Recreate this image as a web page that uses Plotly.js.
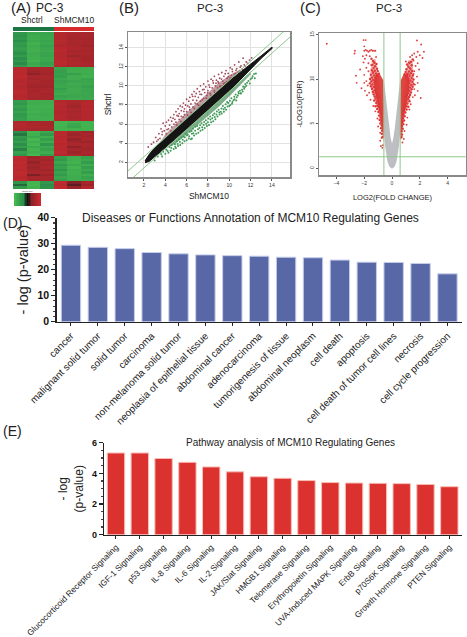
<!DOCTYPE html>
<html><head><meta charset="utf-8">
<script src="https://cdn.plot.ly/plotly-3.0.1.min.js"></script>
<style>html,body{margin:0;padding:0;background:#fff}#c{width:467px;height:637px;opacity:.999;will-change:opacity}</style></head>
<body><div id="c"></div>
<script>
// ---------- data ----------
const heatSamples=['S1','S2','S3','M1','M2','M3'];
const heatRows=[
[-.6,-.8,-.75,.8,.75,.7],[-.55,-.85,-.78,.82,.72,.72],[-.6,-.85,-.8,.8,.7,.68],[-.5,-.82,-.75,.85,.74,.72],
[-.65,-.9,-.8,.8,.72,.7],[-.6,-.85,-.72,.78,.75,.66],[-.7,-.88,-.78,.84,.78,.72],[-.62,-.9,-.82,.85,.7,.7],
[-.52,-.84,-.76,.8,.74,.74],[-.66,-.86,-.74,.82,.6,.7],[-.5,-.88,-.8,.84,.76,.68],[-.6,-.92,-.78,.86,.74,.7],
[-.48,-.8,-.7,.88,.78,.74],[-.62,-.85,-.76,.82,.74,.72],
[.85,.7,.72,-.75,-.82,-.85],[.88,.65,.7,-.7,-.88,-.88],[.86,.5,.66,-.72,-.7,-.85],[.9,.72,.74,-.68,-.86,-.9],
[.85,.68,.72,-.8,-.85,-.75],[.82,.74,.68,-.72,-.78,-.78],[.86,.7,.7,-.76,-.86,-.82],[.8,.66,.66,-.8,-.8,-.72],
[.84,.72,.72,-.7,-.85,-.78],[.88,.7,.74,-.78,-.84,-.76],[.85,.74,.68,-.84,-.82,-.8],[.82,.72,.7,-.74,-.78,-.78],[.84,.7,.7,-.82,-.85,-.8],
[-.66,-.88,-.86,.82,.74,.8],[-.6,-.84,-.88,.85,.7,.84],[-.72,-.9,-.9,.8,.66,.82],[-.64,-.88,-.86,.84,.74,.84],
[-.74,-.92,-.88,.78,.72,.8],[-.62,-.86,-.84,.82,.76,.82],[-.66,-.9,-.86,.84,.72,.84],[-.7,-.86,-.88,.8,.74,.82],
[.78,.7,.72,-.95,-.92,-.92],[.82,.74,.7,-.95,-.8,-.94],[.8,.76,.74,-.92,-.75,-.92],[.78,.72,.72,-.94,-.9,-.93],
[-.5,-.95,-.8,.85,.72,.65],[-.4,-.9,-.65,.88,.6,.72],[-.62,-.8,-.88,.84,.72,.68],[-.55,-1,-.7,.86,.55,.75],
[-.7,-.85,-.85,.9,.68,.62],[-.5,-.98,-.6,.84,.74,.74],[-.68,-.82,-.82,.88,.5,.7],[-.45,-.95,-.72,.86,.7,.66],
[-.72,-.88,-.86,.9,.62,.74],[-.6,-1,-.68,.84,.74,.7],
[.9,.62,.72,-.7,-.85,-.72],[.86,.7,.66,-.6,-.88,-.8],[.92,.55,.74,-.78,-.92,-.66],[.88,.7,.68,-.62,-.82,-.85],
[.9,.6,.76,-.72,-.95,-.7],[.85,.68,.66,-.58,-.85,-.82],[.92,.72,.74,-.74,-.9,-.68],[.9,.42,.62,-.62,-.88,-.85],
[.86,.7,.72,-.78,-.86,-.74],[.88,.68,.7,-.66,-.84,-.8],
[-.55,-.95,-.6,.9,.45,.7],[-.35,-.98,-.5,.86,.3,.62],[-.65,-.9,-.55,.92,.55,.82]];
const heatTopBar=[[-.8,-.8,-.8,1,1,1]];
const keyScale=[[-1,-.9,-.8,-.7,-.6,-.5,-.35,-.15,0,.15,.35,.5,.6,.7,.8,.9,1]];

const bandUpper=[[2.1,2.15],[2.5,2.85],[3,3.5],[4,4.55],[5,5.55],[6,6.55],[7,7.55],[8,8.55],[9,9.55],[10,10.5],[11,11.4],[12,12.25],[13,13.15],[14,14.05]];
const bandLower=[[14.05,13.95],[13,12.88],[12,11.7],[11,10.6],[10,9.5],[9,8.45],[8,7.45],[7,6.45],[6,5.45],[5,4.5],[4,3.5],[3,2.55],[2.5,2.1],[2.1,1.95]];
const redHaze=[[3.5,4.1],[5,5.6],[6,6.6],[7,7.6],[8,8.6],[9,9.6],[10,10.6],[11,11.5],[11,11.7],[10,11.1],[9,10.3],[8,9.3],[7,8.3],[6,7.2],[5,6.1],[4,4.9]];
const greenHaze=[[4,3.4],[5,4.4],[6,5.4],[7,6.4],[8,7.4],[9,8.4],[10,9.4],[11,10.4],[12,11.5],[12,11.2],[11,10],[10,8.9],[9,7.8],[8,6.8],[7,5.8],[6,4.9],[5,4.0]];
const redPoints=[[2.4,3.6],[2.7,3.9],[2.9,4.1],[3.1,4.6],[3.2,4.2],[3.4,5.0],[3.5,4.5],[3.6,5.5],[3.7,4.9],[3.8,6.1],[3.9,5.3],[4.0,5.8],[4.1,5.0],[4.1,6.2],[4.3,5.5],[4.3,6.4],[4.4,5.9],[4.5,6.7],[4.6,5.7],[4.6,6.3],[4.8,7.0],[4.8,6.0],[4.9,6.5],[5.0,7.3],[5.0,6.2],[5.1,6.9],[5.2,7.6],[5.3,6.5],[5.3,7.1],[5.4,7.9],[5.5,6.8],[5.5,7.4],[5.6,7.8],[5.7,8.2],[5.8,7.0],[5.8,7.6],[5.9,8.0],[6.0,8.6],[6.0,7.3],[6.1,7.9],[6.2,8.4],[6.3,7.5],[6.3,8.8],[6.4,8.1],[6.5,9.1],[6.6,7.8],[6.6,8.5],[6.7,9.4],[6.8,8.2],[6.8,8.9],[6.9,9.2],[7.0,9.7],[7.0,8.1],[7.1,8.8],[7.2,9.4],[7.3,8.4],[7.3,10.0],[7.4,9.1],[7.5,9.6],[7.6,8.7],[7.6,10.2],[7.7,9.3],[7.8,9.9],[7.9,9.0],[8.0,10.5],[8.0,9.5],[8.1,10.1],[8.2,9.2],[8.3,10.7],[8.4,9.8],[8.5,10.3],[8.6,9.5],[8.6,11.0],[8.7,10.0],[8.8,10.6],[8.9,9.8],[9.0,11.2],[9.0,10.3],[9.1,10.8],[9.2,10.0],[9.3,11.4],[9.4,10.5],[9.5,11.0],[9.6,10.3],[9.7,11.6],[9.8,10.8],[9.9,11.3],[10,10.6],[10.1,11.9],[10.2,11.1],[10.3,11.5],[10.4,10.9],[10.5,12.2],[10.6,11.3],[10.7,11.8],[10.8,11.1],[10.9,12.5],[11,11.6],[11.1,12.1],[11.3,12.9],[11.4,12.2],[11.6,12.5],[11.9,12.7]];
const redPointsExtra=[[3.33,4.37],[3.72,5.21],[4.17,5.43],[4.52,5.28],[4.73,6.62],[5.07,5.91],[5.23,6.83],[5.46,6.27],[5.68,6.73],[5.74,7.33],[6.08,6.94],[6.26,7.77],[6.43,7.22],[6.57,8.91],[6.72,7.63],[6.94,8.47],[7.12,7.96],[7.26,9.12],[7.47,8.53],[7.63,9.63],[7.84,8.71],[7.97,9.27],[8.16,9.86],[8.27,9.04],[8.46,10.54],[8.63,9.32],[8.76,10.28],[8.94,10.44],[9.12,9.93],[9.27,10.71],[9.46,10.22],[9.62,11.27],[9.77,10.44],[9.93,10.97],[10.13,10.83],[10.27,11.74],[10.46,11.24],[10.63,11.63],[10.82,11.43],[11.03,11.96],[11.22,11.77],[11.47,12.06],[11.73,12.34],[12.1,12.93]];
const greenPoints=[[3.0,2.2],[3.3,2.6],[3.5,3.0],[3.7,2.6],[3.8,3.1],[4.0,2.9],[4.1,3.3],[4.3,3.0],[4.4,3.6],[4.5,3.2],[4.6,3.8],[4.8,3.4],[4.9,3.9],[5.0,3.5],[5.1,4.2],[5.2,3.7],[5.3,4.4],[5.4,3.8],[5.5,4.6],[5.6,4.0],[5.7,4.7],[5.8,4.2],[5.9,5.0],[6.0,4.3],[6.1,4.9],[6.2,4.5],[6.3,5.2],[6.4,4.4],[6.5,5.0],[6.5,4.5],[6.6,5.5],[6.7,4.8],[6.8,5.3],[6.9,5.0],[7.0,5.8],[7.1,5.1],[7.2,5.6],[7.3,5.3],[7.4,6.1],[7.5,5.4],[7.6,5.9],[7.7,5.6],[7.8,6.4],[7.9,5.8],[8.0,6.2],[8.1,5.9],[8.2,6.8],[8.3,6.2],[8.4,6.6],[8.5,6.3],[8.6,7.1],[8.7,6.5],[8.8,7.0],[8.9,6.8],[9.0,7.5],[9.1,7.0],[9.2,7.3],[9.3,7.1],[9.4,7.9],[9.5,7.3],[9.6,7.7],[9.7,7.5],[9.8,8.3],[9.9,8.2],[10.0,7.9],[10.1,8.0],[10.2,8.7],[10.3,8.3],[10.4,8.5],[10.5,8.6],[10.6,9.1],[10.7,8.8],[10.8,9.0],[10.9,9.2],[11.0,9.5],[11.1,9.2],[11.2,9.6],[11.3,9.9],[11.4,9.7],[11.5,10.2],[11.6,10.0],[11.8,10.5],[12.0,10.7],[12.2,11.0],[12.4,10.8],[12.5,11.3]];
const greenPointsExtra=[[3.62,2.83],[4.22,3.17],[4.57,3.49],[4.93,3.63],[5.16,3.92],[5.37,4.13],[5.63,4.37],[5.83,4.63],[6.03,4.82],[6.24,4.73],[6.47,5.27],[6.63,5.03],[6.83,5.72],[7.07,5.47],[7.27,5.87],[7.46,5.66],[7.64,6.23],[7.83,6.04],[8.04,6.58],[8.23,6.47],[8.46,6.93],[8.64,6.74],[8.84,7.33],[9.06,7.22],[9.27,7.64],[9.47,7.56],[9.66,8.07],[9.84,7.83],[10.06,8.43],[10.26,8.13],[10.47,8.86],[10.66,8.47],[10.86,9.37],[11.07,9.23],[11.26,9.42],[11.47,9.88],[11.67,10.33],[11.93,10.24],[12.13,10.82],[12.33,11.24]];
const foldLineLow=[0,16], foldLineUp=[.585,16.585], foldLineDn=[-.585,15.415];

const greyV=[[0,-.05],[-.2,.2],[-.33,.8],[-.42,1.6],[-.5,2.5],[-.585,4],[-.6,7],[-.585,9.9],[-.52,9],[-.42,7.5],[-.3,6],[-.2,4.5],[-.1,3.4],[0,2.8],[.1,3.4],[.2,4.5],[.3,6],[.42,7.5],[.52,9],[.585,9.9],[.6,7],[.585,4],[.5,2.5],[.42,1.6],[.33,.8],[.2,.2],[0,-.05]];
const redLeftCore=[[-.6,3],[-.7,4.3],[-.85,6],[-1.08,7.6],[-1.25,8.8],[-1.3,9.9],[-1.15,10.7],[-.85,10.5],[-.63,9.9],[-.58,7],[-.58,4.5]];
const redRightCore=[[.6,3],[.7,4.3],[.85,6],[1.08,7.6],[1.22,8.8],[1.27,9.9],[1.12,10.7],[.82,10.5],[.63,9.9],[.58,7],[.58,4.5]];
const redLeftHaze=[[-.7,3.5],[-.95,6.2],[-1.3,7.8],[-1.6,9.4],[-1.6,10.4],[-1.45,12.2],[-1.2,12.3],[-1,11],[-.7,7]];
const redRightHaze=[[.7,3.5],[.95,6.2],[1.3,7.8],[1.55,9.4],[1.55,10.4],[1.5,12.1],[1.2,12.2],[1,11],[.7,7]];
const volcanoPoints=[[-4.7,14],[-2.05,14.4],[-1.9,14.4],[-2.0,13.7],[-2.67,13.2],[-2.7,12.9],[-2.0,13.2],[-1.9,13.3],[-1.8,13.2],[-1.7,13.1],[-1.6,13.2],[-1.5,13.3],[-1.4,13.2],[-1.3,13.2],[-1.2,13.2],[-2.1,12.6],[-1.95,12.3],[-1.85,12.7],[-2.05,11.9],[-1.7,11.8],[-1.85,11.3],[-1.6,12.6],[-1.5,11.6],[-1.7,10.9],[-2.6,10.4],[-2.55,9.6],[-2.3,11.1],[-2.0,10.5],[-1.85,9.8],[-2.2,9.0],[-1.95,8.7],[-1.75,9.3],[-2.0,9.6],[-1.8,8.2],[-1.55,7.7],[-1.65,8.5],[-1.35,7.0],[-1.2,6.4],[-1.05,5.6],[-1.0,4.7],[-.85,4.0],[-.85,3.1],[-.8,2.5],[-.7,2.3],[-.65,2.6],[-.75,3.4],[-1.3,11.9],[-1.15,12.5],[-1.4,10.9],
[1.8,14.35],[2.1,13.9],[2.3,13.1],[2.07,7.9],[1.85,13.1],[1.6,12.9],[1.45,12.7],[1.75,12.5],[2.0,12.7],[1.3,12.5],[2.2,12.4],[1.55,12.1],[1.85,11.8],[1.2,11.9],[1.7,11.5],[1.95,11.1],[1.6,10.9],[1.8,10.3],[1.55,10.6],[1.85,9.6],[1.65,9.4],[1.6,8.9],[1.85,8.7],[1.5,8.0],[1.65,8.2],[1.35,7.2],[1.25,6.6],[1.1,5.7],[1.05,4.9],[.9,4.2],[.85,3.3],[.75,2.9],[.7,3.6],[1.1,11.6],[1.0,12.0],[1.35,11.1],[1.25,10.5]];
const volcanoDense=[[-1.48,12.3],[-1.36,12.05],[-1.27,11.85],[-1.41,11.62],[-1.22,11.47],[-1.12,11.73],[-1.33,11.26],[-1.08,11.18],[-1.46,11.03],[-1.24,10.96],[-1.02,10.92],[-1.37,10.74],[-1.16,10.67],[-.94,10.63],[-1.52,10.52],[-1.29,10.43],[-1.07,10.37],[-1.43,10.21],[-1.21,10.16],[-1.58,10.04],[-1.36,9.92],[-1.17,9.84],[-1.49,9.76],[-1.28,9.63],[-1.6,9.54],[-1.41,9.42],[-1.19,9.37],[-1.52,9.22],[-1.31,9.14],[-1.15,8.96],[-1.44,8.93],[-1.26,8.76],[-1.38,8.58],[-1.18,8.52],[-1.32,8.31],[-1.09,8.27],[-1.24,8.07],[-1.03,8.02],[-1.17,7.83],[-1.28,7.61],[-1.06,7.57],[-1.13,7.34],[-.96,7.26],[-1.04,7.03],[-1.19,6.97],[-.92,6.86],[-1.07,6.67],[-.88,6.52],[-.98,6.33],[-.83,6.14],[-.93,5.92],[-.81,5.71],[-.89,5.43],[-.76,5.27],[-.84,5.04],[-.73,4.82],[-.79,4.51],[-.71,4.23],[-.74,3.87],[-.69,3.52],
[1.49,12.24],[1.37,11.96],[1.26,11.83],[1.42,11.57],[1.18,11.41],[1.09,11.68],[1.31,11.24],[1.04,11.12],[1.45,10.94],[1.22,10.87],[.98,10.83],[1.36,10.68],[1.13,10.62],[.91,10.56],[1.5,10.42],[1.27,10.36],[1.04,10.31],[1.41,10.14],[1.19,10.08],[1.55,9.97],[1.33,9.86],[1.15,9.78],[1.47,9.71],[1.26,9.57],[1.56,9.46],[1.39,9.36],[1.17,9.31],[1.49,9.16],[1.29,9.07],[1.13,8.91],[1.41,8.88],[1.24,8.71],[1.36,8.52],[1.16,8.44],[1.3,8.24],[1.07,8.21],[1.22,8.01],[1.01,7.96],[1.15,7.77],[1.26,7.54],[1.04,7.51],[1.11,7.27],[.94,7.19],[1.02,6.97],[1.17,6.91],[.9,6.79],[1.05,6.61],[.86,6.46],[.96,6.27],[.81,6.07],[.91,5.86],[.79,5.64],[.87,5.37],[.74,5.21],[.82,4.97],[.71,4.76],[.77,4.44],[.69,4.16],[.72,3.81],[.67,3.46]];

const dCats=['cancer','malignant solid tumor','solid tumor','carcinoma','non-melanoma solid tumor','neoplasia of epithelial tissue','abdominal cancer','adenocarcinoma','tumorigenesis of tissue','abdominal neoplasm','cell death','apoptosis','cell death of tumor cell lines','necrosis','cell cycle progression'];
const dVals=[29.4,28.6,28.1,26.6,26.1,25.7,25.4,25.2,24.8,24.6,23.7,22.9,22.8,22.4,18.4];
const eCats=['Glucocorticoid Receptor Signaling','IGF-1 Signaling','p53 Signaling','IL-8 Signaling','IL-6 Signaling','IL-2 Signaling','JAK/Stat Signaling','HMGB1 Signaling','Telomerase Signaling','Erythropoietin Signaling','UVA-Induced MAPK Signaling','ErbB Signaling','p70S6K Signaling','Growth Hormone Signaling','PTEN Signaling'];
const eVals=[5.33,5.33,4.97,4.72,4.42,4.1,3.78,3.68,3.53,3.4,3.37,3.35,3.33,3.28,3.13];

// ---------- helpers ----------
const W=467,H=637,FONT='"Liberation Sans",Arial,sans-serif';
const dx=(a,b)=>[a/W,b/W], dy=(top,bot)=>[1-bot/H,1-top/H];
const xs=a=>a.map(p=>p[0]), ys=a=>a.map(p=>p[1]);
const hScale=[[0,'#46b850'],[.25,'#2c8f4c'],[.5,'#111111'],[.75,'#8f2329'],[1,'#c82b2f']];
const hidden={visible:false,fixedrange:true};
const note=(x,y,text,size,color)=>({xref:'paper',yref:'paper',x:x/W,y:1-y/H,text,showarrow:false,xanchor:'center',yanchor:'middle',font:{family:FONT,size,color:color||'#222'}});
const noteL=(x,y,text,size)=>Object.assign(note(x,y,text,size),{xanchor:'left'});

const panelAxis={showline:true,mirror:true,linecolor:'#8a8a8a',linewidth:1.5,showgrid:true,gridcolor:'#e2e2e2',gridwidth:1,zeroline:false,ticks:'outside',ticklen:2,tickcolor:'#555',tickfont:{family:FONT,size:5,color:'#333'}};
const barY={showline:true,linecolor:'#222',linewidth:1.5,ticks:'outside',ticklen:4,tickwidth:1.2,tickcolor:'#222',showgrid:false,zeroline:false,minor:{ticks:'outside',ticklen:2,tickcolor:'#444',nticks:5}};
const barX={type:'category',showline:true,linecolor:'#222',linewidth:1.5,ticks:'outside',ticklen:3,tickwidth:1,tickcolor:'#222',tickangle:-45,showgrid:false,zeroline:false};

const traces=[
 {type:'heatmap',z:heatRows,x:heatSamples,xaxis:'x',yaxis:'y',colorscale:hScale,zmin:-1,zmax:1,showscale:false},
 {type:'heatmap',z:heatTopBar,x:heatSamples,xaxis:'x2',yaxis:'y2',colorscale:[[0,'#1f8f50'],[.5,'#111'],[1,'#d52b2b']],zmin:-1,zmax:1,showscale:false},
 {type:'heatmap',z:keyScale,xaxis:'x3',yaxis:'y3',colorscale:hScale,zmin:-1,zmax:1,showscale:false},

 {type:'scatter',mode:'lines',x:xs(redHaze),y:ys(redHaze),fill:'toself',fillcolor:'rgba(125,50,65,.48)',line:{width:0},xaxis:'x4',yaxis:'y4'},
 {type:'scatter',mode:'lines',x:xs(greenHaze),y:ys(greenHaze),fill:'toself',fillcolor:'rgba(45,125,65,.62)',line:{width:0},xaxis:'x4',yaxis:'y4'},
 {type:'scatter',mode:'markers',x:xs(redPoints.concat(redPointsExtra)),y:ys(redPoints.concat(redPointsExtra)),marker:{size:1.8,color:'#a04a5c'},xaxis:'x4',yaxis:'y4'},
 {type:'scatter',mode:'markers',x:xs(greenPoints.concat(greenPointsExtra)),y:ys(greenPoints.concat(greenPointsExtra)),marker:{size:2,color:'#3d9a55'},xaxis:'x4',yaxis:'y4'},
 {type:'scatter',mode:'lines',x:xs(bandUpper.concat(bandLower)),y:ys(bandUpper.concat(bandLower)),fill:'toself',fillcolor:'#151515',line:{width:1,color:'#151515'},xaxis:'x4',yaxis:'y4'},
 {type:'scatter',mode:'lines',x:foldLineLow,y:foldLineUp,line:{color:'#8cc98a',width:1},xaxis:'x4',yaxis:'y4'},
 {type:'scatter',mode:'lines',x:foldLineLow,y:foldLineDn,line:{color:'#8cc98a',width:1},xaxis:'x4',yaxis:'y4'},

 {type:'scatter',mode:'lines',x:xs(redLeftHaze),y:ys(redLeftHaze),fill:'toself',fillcolor:'rgba(224,70,68,.4)',line:{width:0},xaxis:'x5',yaxis:'y5'},
 {type:'scatter',mode:'lines',x:xs(redRightHaze),y:ys(redRightHaze),fill:'toself',fillcolor:'rgba(224,70,68,.4)',line:{width:0},xaxis:'x5',yaxis:'y5'},
 {type:'scatter',mode:'markers',x:xs(volcanoDense),y:ys(volcanoDense),marker:{size:2.4,color:'#dc3a38'},xaxis:'x5',yaxis:'y5'},
 {type:'scatter',mode:'lines',x:xs(redLeftCore),y:ys(redLeftCore),fill:'toself',fillcolor:'rgba(220,50,48,.9)',line:{width:0},xaxis:'x5',yaxis:'y5'},
 {type:'scatter',mode:'lines',x:xs(redRightCore),y:ys(redRightCore),fill:'toself',fillcolor:'rgba(220,50,48,.9)',line:{width:0},xaxis:'x5',yaxis:'y5'},
 {type:'scatter',mode:'lines',x:xs(greyV),y:ys(greyV),fill:'toself',fillcolor:'#bdbdc2',line:{width:0},xaxis:'x5',yaxis:'y5'},
 {type:'scatter',mode:'markers',x:xs(volcanoPoints),y:ys(volcanoPoints),marker:{size:1.9,color:'#e0413f'},xaxis:'x5',yaxis:'y5'},
 {type:'scatter',mode:'lines',x:[-.585,-.585],y:[-1,16],line:{color:'#8cc98a',width:1},xaxis:'x5',yaxis:'y5'},
 {type:'scatter',mode:'lines',x:[.585,.585],y:[-1,16],line:{color:'#8cc98a',width:1},xaxis:'x5',yaxis:'y5'},
 {type:'scatter',mode:'lines',x:[-6,6],y:[1.3,1.3],line:{color:'#8cc98a',width:1},xaxis:'x5',yaxis:'y5'},

 {type:'bar',x:dCats,y:dVals,width:.72,marker:{color:'#5867a6',line:{color:'#c6cdea',width:1}},xaxis:'x6',yaxis:'y6'},
 {type:'bar',x:eCats,y:eVals,width:.73,marker:{color:'#dc322f',line:{color:'#f8bdb5',width:1}},xaxis:'x7',yaxis:'y7'}
];

const layout={
 width:W,height:H,margin:{l:0,r:0,t:0,b:0},paper_bgcolor:'#fff',plot_bgcolor:'#fff',showlegend:false,font:{family:FONT},
 xaxis:Object.assign({},hidden,{domain:dx(13,94)}),
 yaxis:Object.assign({},hidden,{domain:dy(32,189),autorange:'reversed'}),
 xaxis2:Object.assign({},hidden,{domain:dx(13,94),anchor:'y2'}),
 yaxis2:Object.assign({},hidden,{domain:dy(27,31),anchor:'x2'}),
 xaxis3:Object.assign({},hidden,{domain:dx(14,41),anchor:'y3'}),
 yaxis3:Object.assign({},hidden,{domain:dy(193,206),anchor:'x3'}),
 xaxis4:Object.assign({},panelAxis,{domain:dx(128,290),anchor:'y4',range:[.5,15.7],tickvals:[2,4,6,8,10,12,14],title:{text:'ShMCM10',font:{family:FONT,size:8.5,color:'#222'},standoff:6}}),
 yaxis4:Object.assign({},panelAxis,{domain:dy(32,177),anchor:'x4',range:[.46,15.64],tickvals:[2,4,6,8,10,12,14],tickangle:-90,title:{text:'Shctrl',font:{family:FONT,size:8.5,color:'#222'},standoff:4}}),
 xaxis5:Object.assign({},panelAxis,{domain:dx(319.3,465.7),anchor:'y5',range:[-5.24,5.31],showgrid:false,tickvals:[-4,-2,0,2,4],title:{text:'LOG2(FOLD CHANGE)',font:{family:FONT,size:7.5,color:'#222'},standoff:10}}),
 yaxis5:Object.assign({},panelAxis,{domain:dy(33,175),anchor:'x5',range:[-.75,15.2],showgrid:false,tickvals:[0,5,10,15],tickangle:-90,title:{text:'-LOG10(FDR)',font:{family:FONT,size:7.5,color:'#222'},standoff:5}}),
 xaxis6:Object.assign({},barX,{domain:dx(56.7,461.7),anchor:'y6',range:[-.53,14.53],tickfont:{family:FONT,size:10,color:'#222'}}),
 yaxis6:Object.assign({},barY,{domain:dy(217.7,321.7),anchor:'x6',range:[0,40],tickvals:[0,10,20,30,40],tickfont:{family:FONT,size:10.5,color:'#111',weight:700},title:{text:'- log (p-value)',font:{family:FONT,size:14.5,color:'#222'},standoff:5}}),
 xaxis7:Object.assign({},barX,{domain:dx(104.3,461.7),anchor:'y7',range:[-.49,14.52],tickfont:{family:FONT,size:8.3,color:'#222'}}),
 yaxis7:Object.assign({},barY,{domain:dy(442.7,534.7),anchor:'x7',range:[0,6],tickvals:[0,2,4,6],tickfont:{family:FONT,size:9,color:'#111',weight:700},title:{text:'- log<br>(p-value)',font:{family:FONT,size:12,color:'#222'},standoff:6}}),
 annotations:[
  noteL(9,8,'(A)',15),note(50,8,'PC-3',12),
  note(32,20,'Shctrl',8.5),note(74,20,'ShMCM10',8.5),
  note(27.5,191,'Color Key',2.5),
  noteL(117,8,'(B)',15),note(210,8,'PC-3',11.5),
  noteL(298,8,'(C)',15),note(389,8,'PC-3',11.5),
  noteL(1,223,'(D)',14),note(250,218,'Diseases or Functions Annotation of MCM10 Regulating Genes',12),
  noteL(1,431,'(E)',14),note(290,442,'Pathway analysis of MCM10 Regulating Genes',10)
 ]
};
Plotly.newPlot('c',traces,layout,{displayModeBar:false,staticPlot:true});
</script></body></html>
